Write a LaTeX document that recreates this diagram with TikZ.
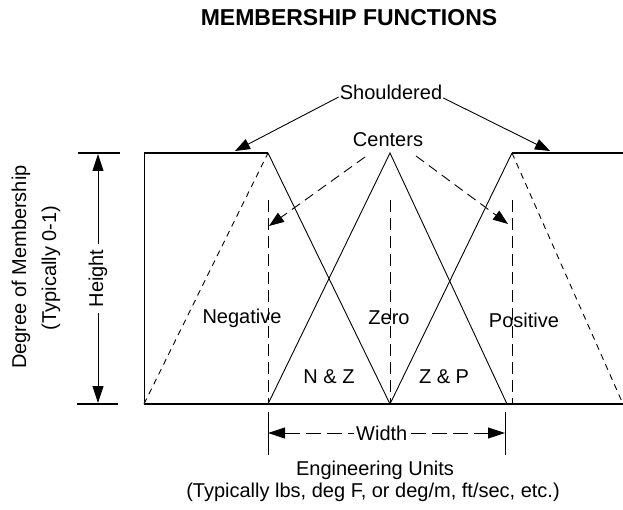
\documentclass[tikz,border=0pt]{standalone}
\usepackage{fontspec}
\setmainfont{Liberation Sans}
\usetikzlibrary{arrows.meta}
\begin{document}
\begin{tikzpicture}[x=1pt,y=-1pt,
  lbl/.style={font=\fontsize{20}{22}\selectfont, inner sep=1pt},
  ttl/.style={font=\fontsize{23}{25}\selectfont\bfseries, inner sep=1pt},
  thinline/.style={line width=0.9pt},
  thickline/.style={line width=1.7pt},
  longdash/.style={dash pattern=on 12pt off 6pt},
  shortdash/.style={dash pattern=on 6pt off 5pt},
  ctrdash/.style={dash pattern=on 10pt off 6pt},
  wdash/.style={dash pattern=on 15pt off 6pt},
  tipend/.style={-{Triangle[length=15pt,width=11pt]}},
  tipboth/.style={{Triangle[length=17pt,width=11pt]}-{Triangle[length=17pt,width=11pt]}},
]
\useasboundingbox (0,0) rectangle (623,510);

% key points
\coordinate (TL) at (144,153);
\coordinate (BL) at (144,404);
\coordinate (NP) at (268,153);
\coordinate (ZP) at (390,153);
\coordinate (PP) at (512,153);
\coordinate (TR) at (623,153);
\coordinate (BR) at (623,404);
\coordinate (B1) at (268,404);
\coordinate (B2) at (390,404);
\coordinate (B3) at (507,404);

% title
\node[ttl] (title) at (349,18) {MEMBERSHIP FUNCTIONS};

% axes / shoulders
\draw[thickline] (BL) -- (BR);
\draw[thinline] (BL) -- (TL);
\draw[thickline] (TL) -- (NP);
\draw[thickline] (PP) -- (TR);

% membership functions
\draw[thinline,shortdash] (BL) -- (NP);
\draw[thinline] (NP) -- (B2);
\draw[thinline] (B1) -- (ZP) -- (B3);
\draw[thinline] (B2) -- (PP);
\draw[thinline,shortdash] (PP) -- (BR);

% dashed centre verticals
\coordinate (V1) at (268,200);
\coordinate (V2) at (390,200);
\coordinate (V3) at (512,200);
\coordinate (V3b) at (512,404);
\draw[thinline,longdash] (V1) -- (B1);
\draw[thinline,longdash] (V2) -- (B2);
\draw[thinline,longdash] (V3) -- (V3b);

% labels in the plot
\node[lbl] (neg) at (242,318) {Negative};
\node[lbl] (zero) at (389,318) {Zero};
\node[lbl] (pos) at (524,320) {Positive};
\node[lbl] (nz) at (329,377) {N \& Z};
\node[lbl] (zp) at (444,377) {Z \& P};

% Shouldered
\node[lbl] (sh) at (391,92) {Shouldered};
\coordinate (sL) at (235,151);
\coordinate (sR) at (550,151);
\draw[thinline,tipend] ([yshift=-5pt]sh.west) -- (sL);
\draw[thinline,tipend] ([yshift=-6pt]sh.east) -- (sR);

% Centers
\node[lbl] (ce) at (388,140) {Centers};
\coordinate (cs1) at (365,157);
\coordinate (cs2) at (416,156);
\coordinate (cL) at (269,226);
\coordinate (cR) at (508,224);
\draw[thinline,ctrdash,tipend] (cs1) -- (cL);
\draw[thinline,ctrdash,tipend] (cs2) -- (cR);

% Height dimension
\coordinate (h1a) at (78,153);
\coordinate (h1b) at (120,153);
\coordinate (h2a) at (77,404);
\coordinate (h2b) at (118,404);
\coordinate (ht) at (98,154);
\coordinate (hb) at (98,403);
\draw[thickline] (h1a) -- (h1b);
\draw[thickline] (h2a) -- (h2b);
\draw[thinline,tipboth] (ht) -- (hb)
  node[midway,lbl,fill=white,rotate=90,inner xsep=6pt] (height) {Height};

\node[lbl,rotate=90] (deg) at (21,267) {Degree of Membership};
\node[lbl,rotate=90] (typ) at (51,268) {(Typically 0-1)};

% Width dimension
\coordinate (w1a) at (268,412);
\coordinate (w1b) at (268,455);
\coordinate (w2a) at (505,412);
\coordinate (w2b) at (505,455);
\coordinate (wl) at (268,433);
\coordinate (wr) at (505,433);
\draw[thinline] (w1a) -- (w1b);
\draw[thinline] (w2a) -- (w2b);
\draw[thinline,wdash,tipboth] (wl) -- (wr)
  node[pos=0.48,lbl,fill=white,inner xsep=2pt] (width) {Width};

\node[lbl] (eng) at (375,470) {Engineering Units};
\node[lbl] (units) at (373,492) {(Typically lbs, deg F, or deg/m, ft/sec, etc.)};
\end{tikzpicture}
\end{document}
